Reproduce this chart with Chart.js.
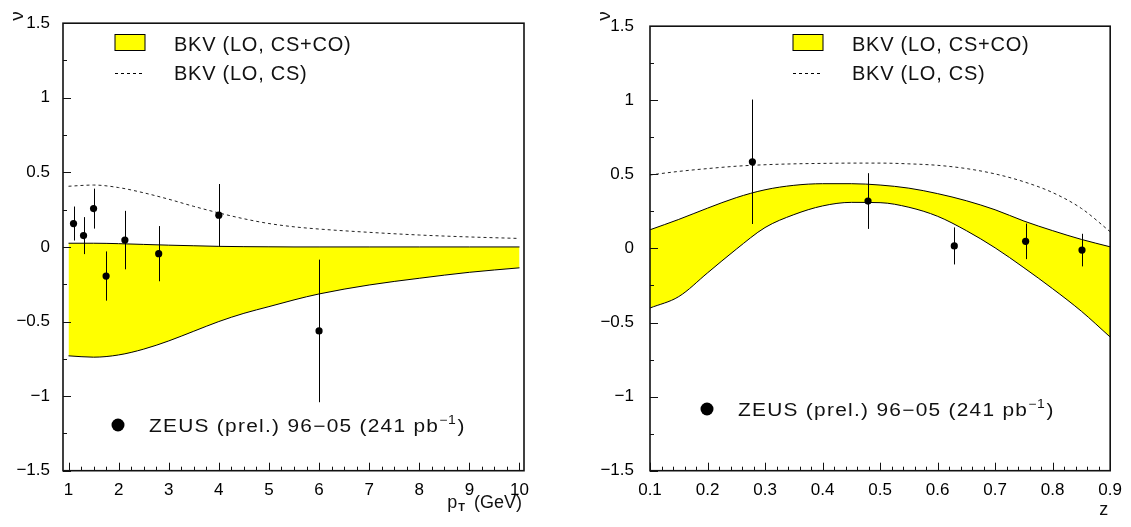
<!DOCTYPE html>
<html>
<head>
<meta charset="utf-8">
<title>BKV vs ZEUS</title>
<script src="https://cdn.jsdelivr.net/npm/chart.js@4.4.0/dist/chart.umd.min.js"></script>
<style>
  body { margin: 0; background: #fff; }
  #wrap { position: relative; width: 1131px; height: 527px; }
  canvas { position: absolute; top: 0; }
</style>
</head>
<body>
<div id="wrap">
  <canvas id="ptChart" width="565" height="527" style="left:0"></canvas>
  <canvas id="zChart" width="566" height="527" style="left:565px"></canvas>
</div>
<script>
// ---- left panel: nu vs pT ----
const ptGrid = [1, 1.5, 2, 2.5, 3, 3.5, 4, 4.5, 5, 5.5, 6, 7, 8, 9, 10];
const ptBandUpper = [0.025, 0.025, 0.022, 0.017, 0.012, 0.008, 0.004, 0.002, 0.001, 0, 0, 0, 0, 0, 0];
const ptBandLower = [-0.73, -0.739, -0.724, -0.685, -0.63, -0.565, -0.5, -0.445, -0.4, -0.355, -0.315, -0.255, -0.21, -0.17, -0.14];
const ptCS = [0.407, 0.415, 0.398, 0.363, 0.32, 0.272, 0.228, 0.189, 0.157, 0.135, 0.12, 0.098, 0.08, 0.067, 0.057];
const ptDataX = [1.1, 1.3, 1.5, 1.75, 2.125, 2.8, 4.0, 6.0];
const ptDataNu = [0.157, 0.076, 0.257, -0.195, 0.046, -0.045, 0.213, -0.563];
const ptDataErr = [0.114, 0.124, 0.134, 0.165, 0.196, 0.185, 0.209, 0.478];
const ptTicks = [1, 2, 3, 4, 5, 6, 7, 8, 9, 10];

// ---- right panel: nu vs z ----
const zGrid = [0.1, 0.15, 0.2, 0.25, 0.3, 0.35, 0.4, 0.45, 0.5, 0.55, 0.6, 0.65, 0.7, 0.75, 0.8, 0.85, 0.9];
const zBandUpper = [0.126, 0.196, 0.272, 0.343, 0.396, 0.426, 0.437, 0.437, 0.428, 0.407, 0.37, 0.322, 0.261, 0.185, 0.12, 0.061, 0.011];
const zBandLower = [-0.402, -0.325, -0.165, -0.005, 0.141, 0.228, 0.287, 0.311, 0.309, 0.278, 0.217, 0.12, 0.004, -0.13, -0.272, -0.424, -0.598];
const zCS = [0.496, 0.52, 0.539, 0.555, 0.565, 0.571, 0.574, 0.576, 0.576, 0.571, 0.561, 0.539, 0.503, 0.45, 0.377, 0.27, 0.113];
const zDataX = [0.278, 0.479, 0.629, 0.753, 0.851];
const zDataNu = [0.585, 0.32, 0.017, 0.048, -0.011];
const zDataErr = [0.42, 0.188, 0.125, 0.12, 0.11];
const zTicks = [0.1, 0.2, 0.3, 0.4, 0.5, 0.6, 0.7, 0.8, 0.9];

const nuTicks = [-1.5, -1, -0.5, 0, 0.5, 1, 1.5];

const FONT = "'Liberation Sans', Arial, Helvetica, sans-serif";
const YELLOW = "#ffff00";

function zip(xs, ys) {
  return xs.map(function (x, i) { return { x: x, y: ys[i] }; });
}

function fmt(v) {
  return String(Number(v.toFixed(2))).replace("-", "\u2212");
}

// draws frame, inward ticks, legend, axis titles and error bars
function makeDeco(o) {
  return {
    id: "deco",
    afterDatasetsDraw: function (chart) {
      const ctx = chart.ctx;
      const xs = chart.scales.x, ys = chart.scales.y;
      ctx.save();
      ctx.strokeStyle = "#000";
      ctx.lineWidth = 1;
      o.dataX.forEach(function (x, i) {
        const px = Math.round(xs.getPixelForValue(x)) + 0.5;
        ctx.beginPath();
        ctx.moveTo(px, ys.getPixelForValue(o.dataNu[i] + o.dataErr[i]));
        ctx.lineTo(px, ys.getPixelForValue(o.dataNu[i] - o.dataErr[i]));
        ctx.stroke();
      });
      ctx.restore();
    },
    afterDraw: function (chart) {
      const ctx = chart.ctx;
      const a = chart.chartArea;
      const xs = chart.scales.x, ys = chart.scales.y;
      ctx.save();

      // frame
      ctx.strokeStyle = "#111";
      ctx.lineWidth = 1.6;
      ctx.strokeRect(a.left, a.top, a.right - a.left, a.bottom - a.top);

      // y ticks, inward
      ctx.lineWidth = 1;
      ctx.beginPath();
      for (let k = 0; k <= 12; k++) {
        const v = -1.5 + k * 0.25;
        const py = Math.round(ys.getPixelForValue(v)) + 0.5;
        const len = k % 2 === 0 ? 8 : 4;
        ctx.moveTo(a.left, py);
        ctx.lineTo(a.left + len, py);
      }
      // x ticks, inward
      const nMinor = Math.round((o.xTicks[o.xTicks.length - 1] - o.xTicks[0]) / o.minorStep);
      for (let k = 0; k <= nMinor; k++) {
        const v = o.xTicks[0] + k * o.minorStep;
        const px = Math.round(xs.getPixelForValue(v)) + 0.5;
        const len = k % o.minorPerMajor === 0 ? 8 : 4;
        ctx.moveTo(px, a.bottom);
        ctx.lineTo(px, a.bottom - len);
      }
      ctx.stroke();

      // legend: band
      const L = o.legend;
      ctx.fillStyle = YELLOW;
      ctx.fillRect(L.boxX, 34.5, 30, 16);
      ctx.strokeStyle = "#000";
      ctx.strokeRect(L.boxX, 34.5, 30, 16);
      ctx.fillStyle = "#111";
      ctx.font = "20px " + FONT;
      ctx.letterSpacing = "0.75px";
      ctx.textBaseline = "alphabetic";
      ctx.fillText("BKV (LO, CS+CO)", L.textX, 50.5);
      // legend: dashed
      ctx.setLineDash([3, 3]);
      ctx.beginPath();
      ctx.moveTo(L.boxX, 73.5);
      ctx.lineTo(L.boxX + 30, 73.5);
      ctx.stroke();
      ctx.setLineDash([]);
      ctx.fillText("BKV (LO, CS)", L.textX, 79.5);

      // legend: ZEUS points
      ctx.beginPath();
      ctx.arc(L.dotX, L.dotY, 6.5, 0, Math.PI * 2);
      ctx.fillStyle = "#000";
      ctx.fill();
      ctx.fillStyle = "#111";
      const main = "ZEUS (prel.) 96\u221205 (241 pb";
      const base = L.dotY + 6.5;
      ctx.save();
      ctx.translate(L.dotX + 31, base);
      ctx.scale(1.16, 1);
      ctx.font = "18px " + FONT;
      ctx.letterSpacing = "1.1px";
      let tx = 0;
      ctx.fillText(main, tx, 0);
      tx += ctx.measureText(main).width;
      ctx.font = "12px " + FONT;
      ctx.letterSpacing = "0.5px";
      ctx.fillText("\u22121", tx, -8);
      tx += ctx.measureText("\u22121").width + 1;
      ctx.font = "18px " + FONT;
      ctx.fillText(")", tx, 0);
      ctx.restore();
      ctx.letterSpacing = "0px";

      // y title (nu), rotated
      ctx.save();
      ctx.translate(a.left - 45, 16);
      ctx.rotate(-Math.PI / 2);
      ctx.font = "19px " + FONT;
      ctx.textAlign = "center";
      ctx.textBaseline = "middle";
      ctx.fillText("\u03bd", 0, 0);
      ctx.restore();

      // x title
      ctx.textAlign = "left";
      ctx.textBaseline = "alphabetic";
      if (o.xTitleSub) {
        ctx.font = "18px " + FONT;
        const wp = ctx.measureText(o.xTitle).width;
        const rest = " (GeV)";
        const wr = ctx.measureText(rest).width;
        ctx.font = "bold 11px " + FONT;
        const ws = ctx.measureText(o.xTitleSub).width;
        const x0 = a.right - 1 - wr - ws - wp - 6;
        ctx.font = "18px " + FONT;
        ctx.fillText(o.xTitle, x0, 508);
        ctx.font = "bold 11px " + FONT;
        ctx.fillText(o.xTitleSub, x0 + wp + 1, 511);
        ctx.font = "18px " + FONT;
        ctx.fillText(rest, x0 + wp + ws + 5, 508);
      } else {
        ctx.font = "18px " + FONT;
        ctx.textAlign = "right";
        ctx.fillText(o.xTitle, a.right - 2, 515);
      }
      ctx.restore();
    }
  };
}

function buildChart(id, o) {
  return new Chart(document.getElementById(id), {
    type: "line",
    data: {
      datasets: [
        {
          label: "BKV (LO, CS+CO)",
          data: zip(o.grid, o.upper),
          borderColor: "#000",
          borderWidth: 1,
          backgroundColor: YELLOW,
          fill: "+1",
          pointRadius: 0,
          cubicInterpolationMode: "monotone"
        },
        {
          label: "band lower",
          data: zip(o.grid, o.lower),
          borderColor: "#000",
          borderWidth: 1,
          fill: false,
          pointRadius: 0,
          cubicInterpolationMode: "monotone"
        },
        {
          label: "BKV (LO, CS)",
          data: zip(o.grid, o.cs),
          borderColor: "#222",
          borderWidth: 1,
          borderDash: [3, 3],
          fill: false,
          pointRadius: 0,
          cubicInterpolationMode: "monotone"
        },
        {
          type: "scatter",
          label: "ZEUS (prel.) 96-05",
          data: zip(o.dataX, o.dataNu),
          backgroundColor: "#000",
          borderColor: "#000",
          borderWidth: 0,
          pointRadius: 3.6,
          order: -1
        }
      ]
    },
    options: {
      responsive: false,
      animation: false,
      events: [],
      layout: { padding: { top: 10, right: o.padRight, left: 0, bottom: 0 } },
      plugins: {
        legend: { display: false },
        tooltip: { enabled: false },
        filler: { drawTime: "beforeDatasetsDraw" }
      },
      scales: {
        x: {
          type: "linear",
          min: o.xMin,
          max: o.xMax,
          grid: { display: false, drawTicks: false },
          border: { display: false },
          afterBuildTicks: function (s) { s.ticks = o.xTicks.map(function (v) { return { value: v }; }); },
          afterFit: function (s) { s.height = 56.3; },
          ticks: {
            padding: 9,
            color: "#000",
            maxRotation: 0,
            autoSkip: false,
            font: { family: FONT, size: 17 },
            callback: fmt
          }
        },
        y: {
          type: "linear",
          min: -1.5,
          max: 1.5,
          grid: { display: false, drawTicks: false },
          border: { display: false },
          afterBuildTicks: function (s) { s.ticks = nuTicks.map(function (v) { return { value: v }; }); },
          afterFit: function (s) { s.width = o.yWidth; },
          ticks: {
            padding: o.yPad,
            color: "#000",
            font: { family: FONT, size: 17 },
            callback: fmt
          }
        }
      }
    },
    plugins: [makeDeco(o)]
  });
}

buildChart("ptChart", {
  grid: ptGrid, upper: ptBandUpper, lower: ptBandLower, cs: ptCS,
  dataX: ptDataX, dataNu: ptDataNu, dataErr: ptDataErr,
  xTicks: ptTicks, xMin: 0.89, xMax: 10.09, minorStep: 0.25, minorPerMajor: 4,
  yWidth: 63, yPad: 13, padRight: 41,
  xTitle: "p", xTitleSub: "T",
  legend: { boxX: 115, textX: 174, dotX: 118, dotY: 425 }
});

buildChart("zChart", {
  grid: zGrid, upper: zBandUpper, lower: zBandLower, cs: zCS,
  dataX: zDataX, dataNu: zDataNu, dataErr: zDataErr,
  xTicks: zTicks, xMin: 0.1, xMax: 0.9, minorStep: 0.02, minorPerMajor: 5,
  yWidth: 85, yPad: 16, padRight: 20,
  xTitle: "z", xTitleSub: null,
  legend: { boxX: 228, textX: 287, dotX: 142, dotY: 409 }
});
</script>
</body>
</html>
